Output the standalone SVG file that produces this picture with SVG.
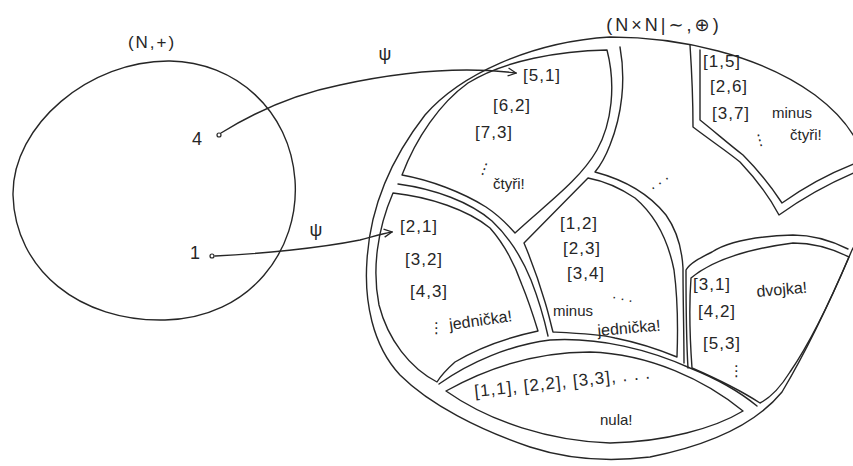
<svg xmlns="http://www.w3.org/2000/svg" width="853" height="466" viewBox="0 0 853 466">
<defs>
<style>
.ln{fill:none;stroke:#262626;stroke-width:1.4;stroke-linecap:round;stroke-linejoin:round}
.t{font-family:"Liberation Sans","DejaVu Sans",sans-serif;fill:#262626;font-size:17px;letter-spacing:1px}
.w{font-family:"Liberation Sans","DejaVu Sans",sans-serif;fill:#262626;font-size:15px}
.dot{fill:#fff;stroke:#262626;stroke-width:1.2}
</style>
<marker id="ah" viewBox="0 0 10 10" refX="9" refY="5" markerWidth="10" markerHeight="10" markerUnits="userSpaceOnUse" orient="auto">
<path d="M1,1 L9,5 L1,9" fill="none" stroke="#262626" stroke-width="1.3"/>
</marker>
</defs>
<rect width="853" height="466" fill="#fff"/>

<g id="setN">
<path class="ln" d="M 170,61 C 235,62 290,110 295,180 C 300,250 250,318 165,320 C 80,322 15,270 13,195 C 12,125 90,60 170,61 Z"/>
<text class="t" x="152" y="48" text-anchor="middle" style="letter-spacing:2px">(N,+)</text>
</g>
<g id="elem4">
<circle class="dot" cx="219" cy="135" r="2"/>
<text class="w" x="197" y="145" text-anchor="middle" style="font-size:18px">4</text>
</g>
<g id="elem1">
<circle class="dot" cx="212" cy="256" r="2"/>
<text class="w" x="195" y="259" text-anchor="middle" style="font-size:18px">1</text>
</g>

<g id="setQ">
<path class="ln" d="M 610,37 C 680,37 760,55 815,95 C 835,110 848,125 856,140 L 880,200 L 852,250 C 835,290 810,345 782,392 C 755,425 710,445 650,457 C 610,462 570,460 530,447 C 480,430 430,405 400,375 C 372,345 364,300 367,260 C 370,210 390,160 425,115 C 460,75 530,42 610,37 Z"/>
<text class="t" x="664" y="31" text-anchor="middle" style="font-size:18px;letter-spacing:3px">(N×N|∼,⊕)</text>
<path class="ln" d="M 620,47 C 626,80 622,115 610,145 C 605,158 600,166 595,172 C 625,180 650,195 666,215 C 678,232 682,250 683,268 C 683,300 684,335 684,363"/>
<path class="ln" d="M 848,249 C 830,240 810,235 793,235 C 760,236 730,240 712,252 C 700,258 690,263 686,270 C 686,300 686,335 688,368"/>
<path class="ln" d="M 690,45 C 692,75 693,105 693,127 C 710,140 728,152 740,162 C 757,180 770,198 779,215 C 800,200 825,185 856,172"/>
<path class="ln" d="M 398,184 C 435,189 470,202 492,221 C 510,238 522,258 531,280 C 538,298 544,318 548,336"/>
<path class="ln" d="M 439,384 C 470,362 510,345 550,340 C 600,337 650,350 690,368 C 720,380 740,392 757,406"/>
</g>

<g id="region-ctyri">
<path class="ln" d="M 607,50 C 560,51 505,60 468,83 C 440,103 416,138 402,175 C 430,180 462,192 486,207 C 498,215 508,225 515,233 C 545,205 580,180 597,150 C 612,123 616,85 607,50 Z"/>
<text class="t" x="523" y="81">[5,1]</text>
<text class="t" x="493" y="111">[6,2]</text>
<text class="t" x="475" y="138">[7,3]</text>
<text class="w" x="478" y="172" transform="rotate(20 480 165)">⋮</text>
<text class="w" x="493" y="189">čtyři!</text>
</g>

<g id="region-minus-ctyri">
<path class="ln" d="M 700,50 C 700,75 700,100 700,120 C 715,132 730,145 743,155 C 760,172 772,188 782,203 C 800,190 825,175 856,163"/>
<text class="t" x="703" y="67">[1,5]</text>
<text class="t" x="710" y="92">[2,6]</text>
<text class="t" x="712" y="119">[3,7]</text>
<text class="w" x="752" y="147" transform="rotate(-15 752 140)">⋮</text>
<text class="w" x="772" y="118">minus</text>
<text class="w" x="790" y="140">čtyři!</text>
</g>

<g id="region-jednicka">
<path class="ln" d="M 393,193 C 430,197 468,210 490,228 C 505,245 515,265 522,285 C 529,302 534,318 538,331 C 505,338 475,350 455,362 C 446,370 440,377 437,382 C 410,368 388,340 379,305 C 372,270 377,230 393,193 Z"/>
<text class="t" x="400" y="232">[2,1]</text>
<text class="t" x="405" y="265">[3,2]</text>
<text class="t" x="410" y="297">[4,3]</text>
<text class="w" x="429" y="333">⋮</text>
<text class="w" x="450" y="330" transform="rotate(-8 450 330)" style="font-size:16px">jednička!</text>
</g>

<g id="region-minus-jednicka">
<path class="ln" d="M 588,178 L 524,243 C 532,262 540,285 545,302 C 549,315 551,325 553,332 C 575,333 600,334 615,338 C 640,343 660,350 677,357 C 678,330 678,300 674,270 C 668,240 655,215 635,198 C 620,188 604,181 588,178 Z"/>
<text class="t" x="560" y="229">[1,2]</text>
<text class="t" x="563" y="254">[2,3]</text>
<text class="t" x="567" y="279">[3,4]</text>
<text class="w" x="612" y="298" transform="rotate(12 612 298)">. . .</text>
<text class="w" x="553" y="316">minus</text>
<text class="w" x="598" y="336" transform="rotate(-5 598 336)" style="font-size:16px">jednička!</text>
</g>

<g id="region-middle">
<text class="w" x="652" y="190" transform="rotate(-35 652 190)">. . .</text>
</g>

<g id="region-dvojka">
<path class="ln" d="M 691,278 C 710,262 740,250 793,243 C 815,243 835,250 849,257 C 835,290 812,340 790,372 C 780,388 770,398 760,403 C 740,390 715,378 692,368 C 690,340 689,305 691,278 Z"/>
<text class="t" x="693" y="290">[3,1]</text>
<text class="w" x="757" y="297" transform="rotate(-5 757 297)" style="font-size:16px">dvojka!</text>
<text class="t" x="698" y="317">[4,2]</text>
<text class="t" x="703" y="349">[5,3]</text>
<text class="w" x="729" y="376">⋮</text>
</g>

<g id="region-nula">
<path class="ln" d="M 446,391 C 480,372 530,352 590,352 C 650,354 705,380 743,411 C 715,428 665,442 610,443 C 550,441 490,422 446,391 Z"/>
<text class="t" x="475" y="397" transform="rotate(-6 475 397)">[1,1], [2,2], [3,3], . . .</text>
<text class="w" x="600" y="425">nula!</text>
</g>

<g id="connectors">
<path class="ln" d="M 221,133 C 250,115 290,95 340,85 C 400,72 460,66 516,73" marker-end="url(#ah)"/>
<path class="ln" d="M 215,256 C 260,254 320,248 360,240 C 375,236 385,233 392,232" marker-end="url(#ah)"/>
<text class="w" x="385" y="60" text-anchor="middle" style="font-size:18px">ψ</text>
<text class="w" x="316" y="236" text-anchor="middle" style="font-size:18px">ψ</text>
</g>
</svg>
